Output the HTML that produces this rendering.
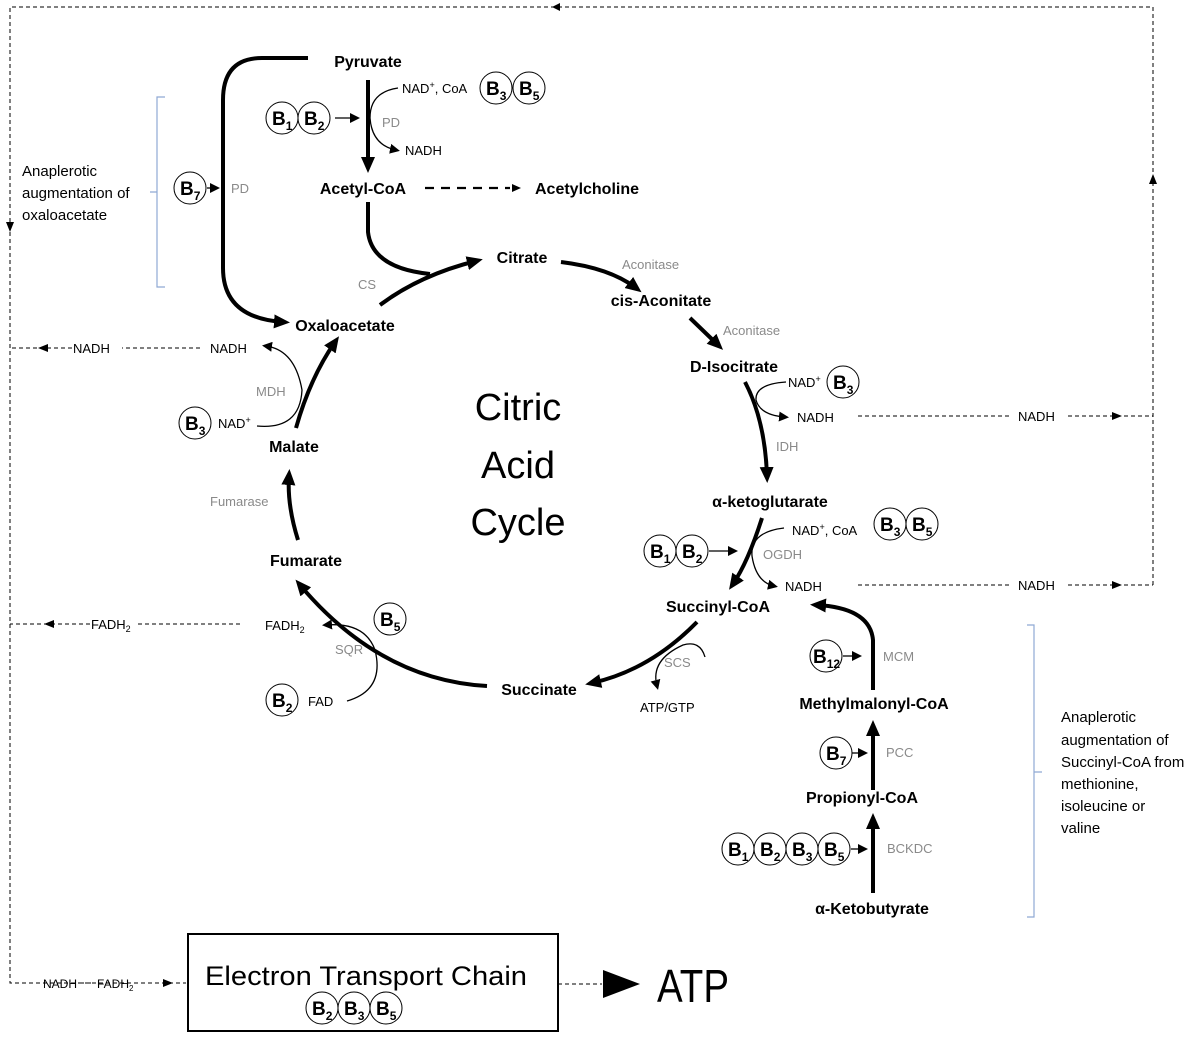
<!DOCTYPE html>
<html><head><meta charset="utf-8"><style>
html,body{margin:0;padding:0;background:#fff}
svg{display:block}
text{font-family:"Liberation Sans",sans-serif}
.m{font-weight:bold;font-size:16px;fill:#000}
.g{font-size:13px;fill:#8a8a8a}
.s{font-size:13px;fill:#000}
.L{font-size:15px;fill:#000}
.bd{fill:none;stroke:#000;stroke-width:1;stroke-dasharray:4,3}
.th{fill:none;stroke:#000;stroke-width:4}
.tn{fill:none;stroke:#000;stroke-width:1.3}
.bc circle{fill:#fff;stroke:#000;stroke-width:1}
.bc text{font-weight:bold;font-size:19px}
.bc tspan{font-size:12px}
</style></head><body>
<svg width="1200" height="1038" viewBox="0 0 1200 1038" xmlns="http://www.w3.org/2000/svg">
<defs>
<marker id="b" markerWidth="10" markerHeight="10" refX="6" refY="5" orient="auto" markerUnits="userSpaceOnUse"><path d="M0,0L10,5L0,10z"/></marker>
<marker id="c" markerWidth="16" markerHeight="14" refX="9" refY="7" orient="auto" markerUnits="userSpaceOnUse"><path d="M0,0L16,7L0,14z"/></marker>
</defs>

<!-- outer dashed frame -->
<path class="bd" d="M1153,585 V7 H10 V983 H186"/>
<path d="M560,3 L552,7 L560,11z"/>
<path d="M6,222 L10,232 L14,222z"/>
<path d="M1149,184 L1153,174 L1157,184z"/>
<path class="bd" d="M858,416 H1010 M1068,416 H1153"/>
<text class="s" x="1018" y="421">NADH</text>
<path d="M1112,412 L1122,416 L1112,420z"/>
<path class="bd" d="M858,585 H1010 M1068,585 H1153"/>
<text class="s" x="1018" y="590">NADH</text>
<path d="M1112,581 L1122,585 L1112,589z"/>
<path class="bd" d="M200,348 H122 M72,348 H10"/>
<text class="s" x="73" y="353">NADH</text>
<path d="M48,344 L38,348 L48,352z"/>
<path class="bd" d="M240,624 H135 M90,624 H10"/>
<text class="s" x="91" y="629">FADH<tspan font-size="9" dy="3">2</tspan></text>
<path d="M54,620 L44,624 L54,628z"/>
<text class="s" x="43" y="988" style="font-size:12px">NADH</text>
<text class="s" x="97" y="988" style="font-size:12px">FADH<tspan font-size="8" dy="3">2</tspan></text>
<path class="bd" d="M80,983 H96"/>
<path d="M163,979 L173,983 L163,987z"/>
<rect x="188" y="934" width="370" height="97" fill="none" stroke="#000" stroke-width="2"/>
<text x="366" y="985" font-size="27" text-anchor="middle" textLength="322" lengthAdjust="spacingAndGlyphs">Electron Transport Chain</text>
<path class="bd" d="M558,984 H602"/>
<path d="M603,970 L640,984 L603,998z"/>
<text x="657" y="1002" font-size="46" textLength="72" lengthAdjust="spacingAndGlyphs">ATP</text>

<!-- brackets -->
<path d="M165,97 H157 V287 H165 M157,192 H150" fill="none" stroke="#8fa9d4" stroke-width="1.2"/>
<text class="L" x="22" y="176">Anaplerotic</text>
<text class="L" x="22" y="198">augmentation of</text>
<text class="L" x="22" y="220">oxaloacetate</text>
<path d="M1027,625 H1034 V917 H1027 M1034,772 H1042" fill="none" stroke="#8fa9d4" stroke-width="1.2"/>
<text class="L" x="1061" y="722">Anaplerotic</text>
<text class="L" x="1061" y="745">augmentation of</text>
<text class="L" x="1061" y="767">Succinyl-CoA from</text>
<text class="L" x="1061" y="789">methionine,</text>
<text class="L" x="1061" y="811">isoleucine or</text>
<text class="L" x="1061" y="833">valine</text>

<text x="518" y="420" font-size="38" text-anchor="middle">Citric</text>
<text x="518" y="478" font-size="38" text-anchor="middle">Acid</text>
<text x="518" y="535" font-size="38" text-anchor="middle">Cycle</text>

<text class="m" x="368" y="67" text-anchor="middle">Pyruvate</text>
<text class="m" x="363" y="194" text-anchor="middle">Acetyl-CoA</text>
<text class="m" x="587" y="194" text-anchor="middle">Acetylcholine</text>
<text class="m" x="522" y="263" text-anchor="middle">Citrate</text>
<text class="m" x="661" y="306" text-anchor="middle">cis-Aconitate</text>
<text class="m" x="734" y="372" text-anchor="middle">D-Isocitrate</text>
<text class="m" x="770" y="507" text-anchor="middle">α-ketoglutarate</text>
<text class="m" x="718" y="612" text-anchor="middle">Succinyl-CoA</text>
<text class="m" x="539" y="695" text-anchor="middle">Succinate</text>
<text class="m" x="306" y="566" text-anchor="middle">Fumarate</text>
<text class="m" x="294" y="452" text-anchor="middle">Malate</text>
<text class="m" x="345" y="331" text-anchor="middle">Oxaloacetate</text>
<text class="m" x="874" y="709" text-anchor="middle">Methylmalonyl-CoA</text>
<text class="m" x="862" y="803" text-anchor="middle">Propionyl-CoA</text>
<text class="m" x="872" y="914" text-anchor="middle">α-Ketobutyrate</text>

<text class="g" x="382" y="127">PD</text>
<text class="g" x="231" y="193">PD</text>
<text class="g" x="358" y="289">CS</text>
<text class="g" x="622" y="269">Aconitase</text>
<text class="g" x="723" y="335">Aconitase</text>
<text class="g" x="776" y="451">IDH</text>
<text class="g" x="763" y="559">OGDH</text>
<text class="g" x="664" y="667">SCS</text>
<text class="g" x="335" y="654">SQR</text>
<text class="g" x="210" y="506">Fumarase</text>
<text class="g" x="256" y="396">MDH</text>
<text class="g" x="883" y="661">MCM</text>
<text class="g" x="886" y="757">PCC</text>
<text class="g" x="887" y="853">BCKDC</text>

<text class="s" x="402" y="93">NAD<tspan font-size="9" dy="-5">+</tspan><tspan dy="5">, CoA</tspan></text>
<text class="s" x="405" y="155">NADH</text>
<text class="s" x="788" y="387">NAD<tspan font-size="9" dy="-5">+</tspan></text>
<text class="s" x="797" y="422">NADH</text>
<text class="s" x="792" y="535">NAD<tspan font-size="9" dy="-5">+</tspan><tspan dy="5">, CoA</tspan></text>
<text class="s" x="785" y="591">NADH</text>
<text class="s" x="640" y="712">ATP/GTP</text>
<text class="s" x="265" y="630">FADH<tspan font-size="9" dy="3">2</tspan></text>
<text class="s" x="308" y="706">FAD</text>
<text class="s" x="210" y="353">NADH</text>
<text class="s" x="218" y="428">NAD<tspan font-size="9" dy="-5">+</tspan></text>

<path class="th" d="M308,58 H262 Q223,58 223,100 V268 Q223,318 283,322" marker-end="url(#c)"/>
<path class="th" d="M368,80 V166" marker-end="url(#c)"/>
<path class="th" d="M368,202 V232 Q372,268 430,274"/>
<path class="th" d="M380,305 Q420,275 476,261" marker-end="url(#c)"/>
<path class="th" d="M561,262 Q610,268 636,288" marker-end="url(#c)"/>
<path class="th" d="M690,318 L718,345" marker-end="url(#c)"/>
<path class="th" d="M745,382 Q765,420 767,476" marker-end="url(#c)"/>
<path class="th" d="M762,518 Q748,562 733,584" marker-end="url(#c)"/>
<path class="th" d="M697,622 Q650,670 592,683" marker-end="url(#c)"/>
<path class="th" d="M487,686 Q380,680 300,585" marker-end="url(#c)"/>
<path class="th" d="M298,540 Q287,505 289,476" marker-end="url(#c)"/>
<path class="th" d="M296,428 Q310,378 335,342" marker-end="url(#c)"/>
<path class="th" d="M873,690 V640 Q870,608 817,605" marker-end="url(#c)"/>
<path class="th" d="M873,790 V727" marker-end="url(#c)"/>
<path class="th" d="M873,893 V820" marker-end="url(#c)"/>
<path d="M425,188 H510" fill="none" stroke="#000" stroke-width="2.2" stroke-dasharray="9,7"/>
<path d="M512,184 L521,188 L512,192z"/>

<path class="tn" d="M398,88 Q370,92 370,118 Q372,145 396,150" marker-end="url(#b)"/>
<path class="tn" d="M786,382 Q755,384 756,400 Q760,415 785,417" marker-end="url(#b)"/>
<path class="tn" d="M784,528 Q750,532 752,556 Q756,582 774,586" marker-end="url(#b)"/>
<path class="tn" d="M705,657 Q700,640 683,645 Q650,660 657,686" marker-end="url(#b)"/>
<path class="tn" d="M347,701 Q385,690 375,650 Q365,622 326,625" marker-end="url(#b)"/>
<path class="tn" d="M257,426 Q300,430 302,390 Q295,350 266,346" marker-end="url(#b)"/>
<path class="tn" d="M335,118 H356" marker-end="url(#b)"/>
<path class="tn" d="M207,188 H216" marker-end="url(#b)"/>
<path class="tn" d="M709,551 H734" marker-end="url(#b)"/>
<path class="tn" d="M843,656 H858" marker-end="url(#b)"/>
<path class="tn" d="M852,753 H864" marker-end="url(#b)"/>
<path class="tn" d="M851,849 H864" marker-end="url(#b)"/>

<g class="bc">
<circle cx="282" cy="118" r="16"/><text x="272" y="125">B<tspan dy="5">1</tspan></text>
<circle cx="314" cy="118" r="16"/><text x="304" y="125">B<tspan dy="5">2</tspan></text>
<circle cx="496" cy="88" r="16"/><text x="486" y="95">B<tspan dy="5">3</tspan></text>
<circle cx="529" cy="88" r="16"/><text x="519" y="95">B<tspan dy="5">5</tspan></text>
<circle cx="190" cy="188" r="16"/><text x="180" y="195">B<tspan dy="5">7</tspan></text>
<circle cx="843" cy="382" r="16"/><text x="833" y="389">B<tspan dy="5">3</tspan></text>
<circle cx="890" cy="524" r="16"/><text x="880" y="531">B<tspan dy="5">3</tspan></text>
<circle cx="922" cy="524" r="16"/><text x="912" y="531">B<tspan dy="5">5</tspan></text>
<circle cx="660" cy="551" r="16"/><text x="650" y="558">B<tspan dy="5">1</tspan></text>
<circle cx="692" cy="551" r="16"/><text x="682" y="558">B<tspan dy="5">2</tspan></text>
<circle cx="390" cy="619" r="16"/><text x="380" y="626">B<tspan dy="5">5</tspan></text>
<circle cx="282" cy="700" r="16"/><text x="272" y="707">B<tspan dy="5">2</tspan></text>
<circle cx="195" cy="423" r="16"/><text x="185" y="430">B<tspan dy="5">3</tspan></text>
<circle cx="826" cy="656" r="16"/><text x="813" y="663">B<tspan dy="5">12</tspan></text>
<circle cx="836" cy="753" r="16"/><text x="826" y="760">B<tspan dy="5">7</tspan></text>
<circle cx="738" cy="849" r="16"/><text x="728" y="856">B<tspan dy="5">1</tspan></text>
<circle cx="770" cy="849" r="16"/><text x="760" y="856">B<tspan dy="5">2</tspan></text>
<circle cx="802" cy="849" r="16"/><text x="792" y="856">B<tspan dy="5">3</tspan></text>
<circle cx="834" cy="849" r="16"/><text x="824" y="856">B<tspan dy="5">5</tspan></text>
<circle cx="322" cy="1008" r="16"/><text x="312" y="1015">B<tspan dy="5">2</tspan></text>
<circle cx="354" cy="1008" r="16"/><text x="344" y="1015">B<tspan dy="5">3</tspan></text>
<circle cx="386" cy="1008" r="16"/><text x="376" y="1015">B<tspan dy="5">5</tspan></text>
</g>
</svg>
</body></html>
